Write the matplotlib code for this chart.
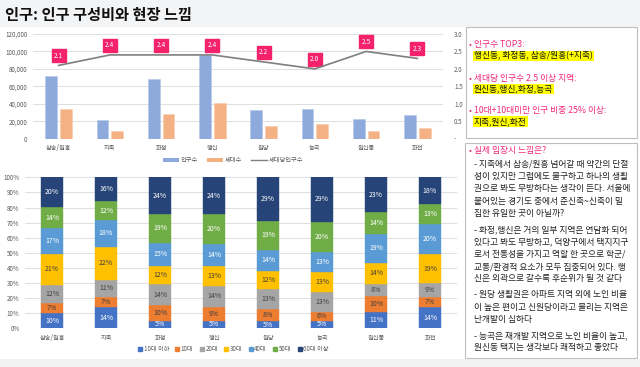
import matplotlib.pyplot as plt
from matplotlib.patches import Rectangle, Patch
from matplotlib.lines import Line2D
from matplotlib.ticker import FuncFormatter

plt.rcParams['font.family'] = ['Noto Sans CJK KR', 'DejaVu Sans']

# 지역별 인구 / 세대
areas = ['삼송/원흥', '지축', '화정', '행신', '원당', '능곡', '원신동', '화전']
pop = [72000, 21000, 68000, 95500, 32800, 34000, 22500, 27500]
households = [33500, 8500, 28500, 40500, 14500, 16700, 9200, 11900]
per_house = [2.1, 2.4, 2.4, 2.4, 2.2, 2.0, 2.5, 2.3]

# 연령대 비중 (%)
age_names = ['10대 이하', '10대', '20대', '30대', '40대', '50대', '60대 이상']
age_u10 = [10, 14, 5, 5, 5, 5, 11, 14]
age_10 = [7, 7, 10, 9, 8, 6, 10, 7]
age_20 = [12, 11, 14, 14, 13, 13, 8, 9]
age_30 = [21, 22, 12, 13, 12, 13, 14, 19]
age_40 = [17, 18, 15, 14, 14, 13, 19, 20]
age_50 = [14, 12, 19, 20, 19, 20, 14, 13]
age_60 = [20, 16, 24, 24, 29, 29, 23, 18]
age_data = [age_u10, age_10, age_20, age_30, age_40, age_50, age_60]
age_colors = ['#4472C4', '#ED7D31', '#A5A5A5', '#FFC000', '#5B9BD5', '#70AD47', '#264478']
age_txt = ['white', '#404040', '#404040', '#404040', 'white', 'white', 'white']

W, H = 640, 367
def fx(px):
    return px / W
def fy(py):
    return 1 - py / H

fig = plt.figure(figsize=(6.4, 3.67), dpi=100)
fig.patches.append(Rectangle((0, fy(27)), 1, 27 / H, transform=fig.transFigure,
                             facecolor='#F3F4F6', edgecolor='none', zorder=-5))
fig.patches.append(Rectangle((0, 0), 1, 8 / H, transform=fig.transFigure,
                             facecolor='#F2F2F2', edgecolor='none', zorder=-5))
fig.text(fx(5), fy(15), '인구: 인구 구성비와 현장 느낌', fontsize=11, fontweight='bold',
         va='center', ha='left', color='#111111')

grid_c = '#D9D9D9'
tick_c = '#595959'

# ---------------- 상단: 인구수 / 세대수 / 세대당인구수 ----------------
ax = fig.add_axes([fx(33), fy(138.7), (443 - 33) / W, (138.7 - 34) / H])
x = list(range(len(areas)))
bw = 0.23
ax.bar([i - bw / 2 - 0.03 for i in x], pop, bw, color='#8EA9DB', edgecolor='#B4C7E7', linewidth=0.4, zorder=3)
ax.bar([i + bw / 2 + 0.03 for i in x], households, bw, color='#F4B183', edgecolor='#F8CBAD', linewidth=0.4, zorder=3)
ax.set_ylim(0, 120000)
ax.set_xlim(-0.5, len(areas) - 0.5)
ax.set_yticks(range(0, 120001, 20000))
ax.yaxis.set_major_formatter(FuncFormatter(lambda v, p: f'{int(v):,}'))
ax.grid(axis='y', color=grid_c, linewidth=0.6, zorder=0)
for s in ax.spines.values():
    s.set_visible(False)
ax.set_xticks(x)
ax.set_xticklabels(areas)
ax.tick_params(labelsize=4.5, colors=tick_c, length=0, pad=4)

ax2 = ax.twinx()
ax2.plot(x, per_house, color='#7F7F7F', linewidth=1.2, zorder=4)
ax2.set_ylim(0, 3.0)
ax2.set_yticks([0, 0.5, 1.0, 1.5, 2.0, 2.5, 3.0])
ax2.yaxis.set_major_formatter(FuncFormatter(lambda v, p: '-' if v == 0 else f'{v:.1f}'))
ax2.tick_params(labelsize=4.5, colors=tick_c, length=0, pad=8)
for s in ax2.spines.values():
    s.set_visible(False)
for i, v in zip(x, per_house):
    ax2.annotate(f'{v:.1f}', (i, v), xytext=(0, 7), textcoords='offset points',
                 ha='center', va='center', fontsize=4.8, color='white',
                 bbox=dict(boxstyle='square,pad=0.35', facecolor='#F4216B', edgecolor='#F4216B'))

top_handles = [Patch(facecolor='#8EA9DB', edgecolor='none'),
               Patch(facecolor='#F4B183', edgecolor='none'),
               Line2D([0], [0], color='#7F7F7F', linewidth=1.0)]
fig.legend(top_handles, ['인구수', '세대수', '세대당인구수'], loc='center',
           bbox_to_anchor=(fx(233), fy(160)), ncol=3, frameon=False, fontsize=4.5,
           handlelength=2.5, handleheight=0.5, columnspacing=1.5, handletextpad=0.3,
           labelcolor=tick_c)

# ---------------- 하단: 연령대 구성비 ----------------
bx = fig.add_axes([fx(25), fy(328.3), (457 - 25) / W, (328.3 - 177.3) / H])
totals = [sum(col) for col in zip(*age_data)]
bottoms = [0.0] * len(areas)
for vals, name, col, tc in zip(age_data, age_names, age_colors, age_txt):
    shares = [v / t for v, t in zip(vals, totals)]
    bx.bar(x, shares, 0.4, bottom=bottoms, color=col, edgecolor=col, linewidth=0.3, zorder=3)
    for i, (v, s, b) in enumerate(zip(vals, shares, bottoms)):
        bx.text(i, b + s / 2, f'{v}%', ha='center', va='center', fontsize=5, color=tc, zorder=4)
    bottoms = [b + s for b, s in zip(bottoms, shares)]
bx.set_ylim(0, 1)
bx.set_xlim(-0.5, len(areas) - 0.5)
bx.set_yticks([i / 10 for i in range(11)])
bx.yaxis.set_major_formatter(FuncFormatter(lambda v, p: f'{v * 100:.0f}%'))
bx.grid(axis='y', color=grid_c, linewidth=0.6, zorder=0)
for s in bx.spines.values():
    s.set_visible(False)
bx.set_xticks(x)
bx.set_xticklabels(areas)
bx.tick_params(labelsize=4.5, colors=tick_c, length=0, pad=4)

age_handles = [Line2D([0], [0], marker='s', linestyle='none', markersize=2.5,
                      markerfacecolor=c, markeredgecolor=c) for c in age_colors]
fig.legend(age_handles, age_names, loc='center', bbox_to_anchor=(fx(233), fy(349)),
           ncol=7, frameon=False, fontsize=4.5, handlelength=0.8, columnspacing=0.9,
           handletextpad=0.2, labelcolor=tick_c)

# ---------------- 우측 텍스트 박스 ----------------
box_c = '#BFBFBF'
fig.patches.append(Rectangle((fx(466), fy(138)), (637 - 466) / W, (138 - 27) / H,
                             transform=fig.transFigure, facecolor='white', edgecolor=box_c, linewidth=0.8))
fig.patches.append(Rectangle((fx(465), fy(358)), (637 - 465) / W, (358 - 143) / H,
                             transform=fig.transFigure, facecolor='white', edgecolor=box_c, linewidth=0.8))

pink = '#F0287A'
summary = [
    ('인구수 TOP3:', '행신동, 화정동, 삼송/원흥(+지축)', 45, 56),
    ('세대당 인구수 2.5 이상 지역:', '원신동,행신,화정,능곡', 78, 89),
    ('10대+10대미만 인구 비중 25% 이상:', '지축,원신,화전', 111, 121.5),
]
for head, body, y1, y2 in summary:
    fig.text(fx(469), fy(y1), '•', fontsize=6.3, color=pink, va='center', ha='left')
    fig.text(fx(474), fy(y1), head, fontsize=6.3, color=pink, va='center', ha='left')
    fig.text(fx(474), fy(y2), body, fontsize=6.3, color='#111111', va='center', ha='left',
             bbox=dict(boxstyle='square,pad=0.1', facecolor='#FFFF00', edgecolor='none'))

fig.text(fx(469), fy(151), '•', fontsize=6.3, color=pink, va='center', ha='left')
fig.text(fx(474), fy(151), '실제 임장시 느낌은?', fontsize=6.3, color=pink, va='center', ha='left')
notes = [
    '- 지축에서 삼송/원흥 넘어갈 때 약간의 단절',
    '성이 있지만 그럼에도 불구하고 하나의 생활',
    '권으로 봐도 무방하다는 생각이 든다. 서울에',
    '붙어있는 경기도 중에서 준신축~신축이 밀',
    '집한 유일한 곳이 아닐까?',
    '',
    '- 화정,행신은 거의 일부 지역은 연담화 되어',
    '있다고 봐도 무방하고, 덕양구에서 택지지구',
    '로서 전통성을 가지고 역할 한 곳으로 학군/',
    '교통/환경적 요소가 모두 집중되어 있다. 행',
    '신은 외곽으로 갈수록 후순위가 될 것 같다',
    '',
    '- 원당 생활권은 아파트 지역 외에 노인 비율',
    '이 높은 편이고 신원당이라고 불리는 지역은',
    '난개발이 심하다',
    '',
    '- 능곡은 재개발 지역으로 노인 비율이 높고,',
    '원신동 택지는 생각보다 쾌적하고 좋았다',
]
y = 164.3
for line in notes:
    if line == '':
        y += 3.8
        continue
    fig.text(fx(474), fy(y), line, fontsize=6.3, color='#222222', va='center', ha='left')
    y += 12.3

fig.savefig('out.png', dpi=100)
